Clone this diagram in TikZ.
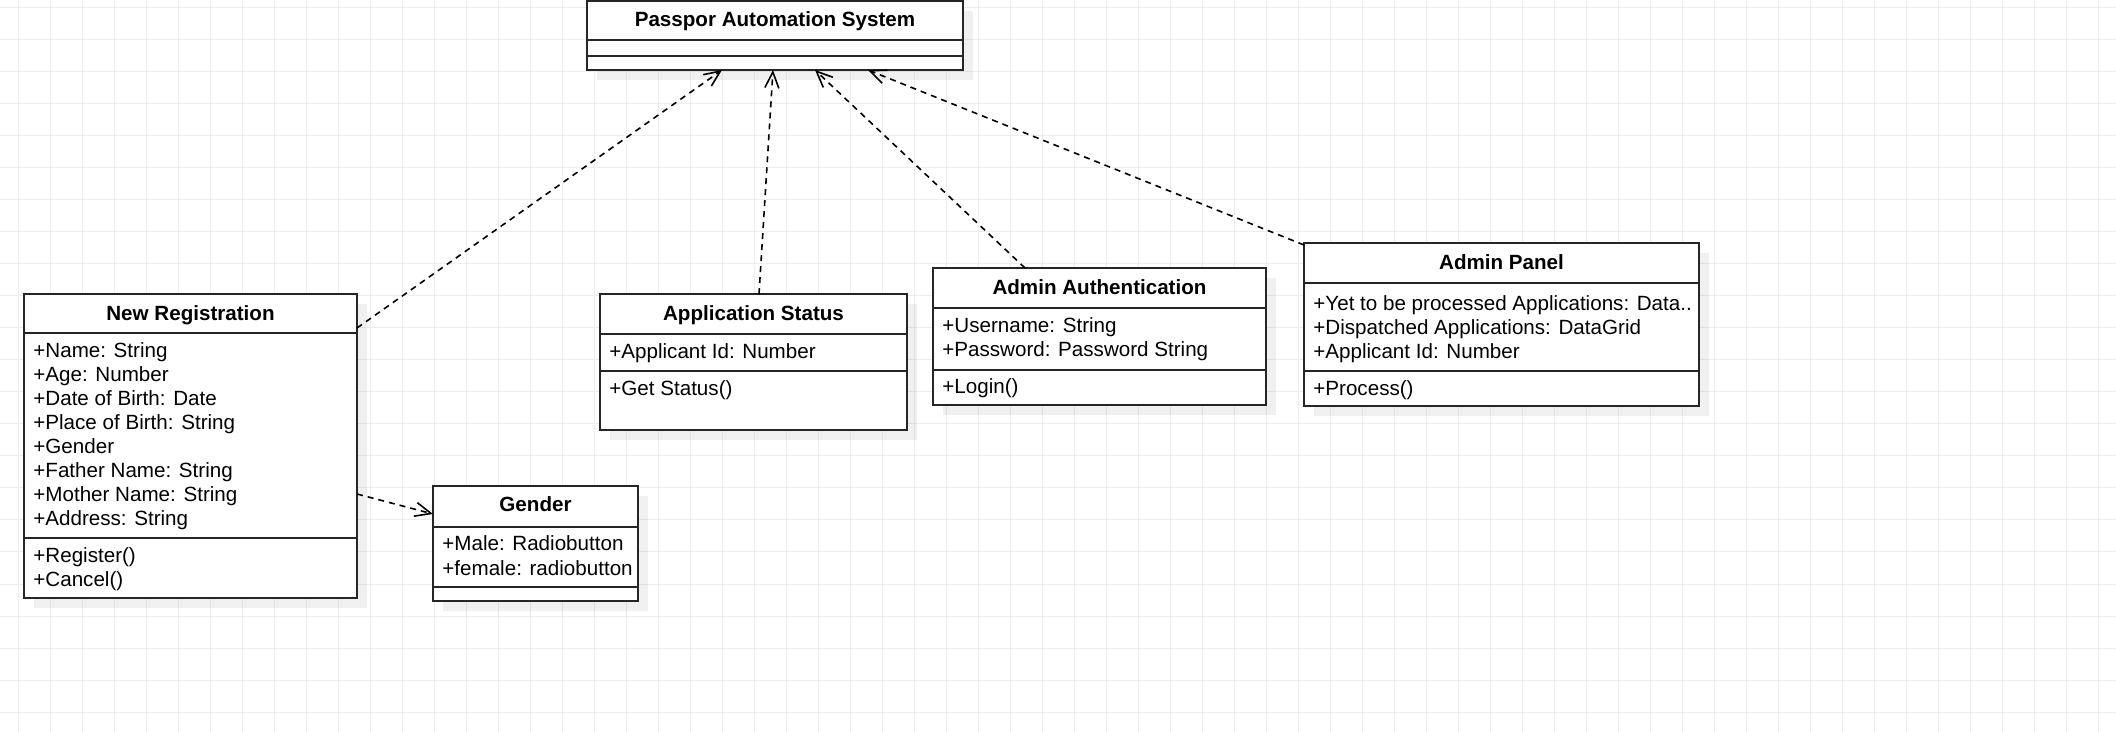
\documentclass[tikz,border=0pt]{standalone}
\usepackage{fontspec}
\setmainfont{Liberation Sans}
\usetikzlibrary{arrows.meta,shadows}
\begin{document}
\begin{tikzpicture}[x=0.5pt,y=-0.5pt,
  gridline/.style={draw=black!7, line width=0.5pt},
  cls/.style={draw=black!85, fill=white, line width=1pt, inner sep=0pt, outer sep=0pt,
    anchor=north west, general shadow={fill=black, opacity=0.06, shadow xshift=5pt, shadow yshift=-5pt}},
  sepline/.style={draw=black!85, line width=1pt},
  ttl/.style={font=\bfseries\fontsize{10.3}{12}\selectfont, anchor=base, inner sep=0pt},
  attr/.style={font=\fontsize{10.3}{12}\selectfont, anchor=base west, inner sep=0pt},
  dep/.style={draw=black, line width=0.8pt, dash pattern=on 3pt off 2.5pt,
    -{Straight Barb[length=8pt,width=7pt]}}]
\useasboundingbox (0,0) rectangle (2116,732);
\fill[white] (0,0) rectangle (2116,732);
% grid
\foreach \gx in {18,50,...,2116} {\draw[gridline] (\gx,0) -- (\gx,732);}
\foreach \gy in {8,40,...,732} {\draw[gridline] (0,\gy) -- (2116,\gy);}

% Passpor Automation System
\node[cls, minimum width=188pt, minimum height=34.5pt] (pas) at (587,1) {};
\draw[sepline] (587,40) -- (963,40);
\draw[sepline] (587,56) -- (963,56);
\node[ttl] (pas-t) at (775,27) {Passpor Automation System};

% New Registration
\node[cls, minimum width=166.5pt, minimum height=152pt] (nr) at (24,294) {};
\draw[sepline] (24,333) -- (357,333);
\draw[sepline] (24,538) -- (357,538);
\node[ttl] (nr-t) at (190.5,321) {New Registration};
\node[attr] (nr-a1) at (33,358) {+Name: String};
\node[attr] (nr-a2) at (33,382) {+Age: Number};
\node[attr] (nr-a3) at (33,406) {+Date of Birth: Date};
\node[attr] (nr-a4) at (33,430) {+Place of Birth: String};
\node[attr] (nr-a5) at (33,454) {+Gender};
\node[attr] (nr-a6) at (33,478) {+Father Name: String};
\node[attr] (nr-a7) at (33,502) {+Mother Name: String};
\node[attr] (nr-a8) at (33,526) {+Address: String};
\node[attr] (nr-m1) at (33,563) {+Register()};
\node[attr] (nr-m2) at (33,587) {+Cancel()};

% Gender
\node[cls, minimum width=102.5pt, minimum height=57.5pt] (gen) at (433,486) {};
\draw[sepline] (433,527) -- (638,527);
\draw[sepline] (433,587) -- (638,587);
\node[ttl] (gen-t) at (535.5,512) {Gender};
\node[attr] (gen-a1) at (442,551) {+Male: Radiobutton};
\node[attr] (gen-a2) at (442,575) {+female: radiobutton};

% Application Status
\node[cls, minimum width=153.5pt, minimum height=68pt] (aps) at (600,294) {};
\draw[sepline] (600,334) -- (907,334);
\draw[sepline] (600,371) -- (907,371);
\node[ttl] (aps-t) at (753.5,321) {Application Status};
\node[attr] (aps-a1) at (609,359) {+Applicant Id: Number};
\node[attr] (aps-m1) at (609,396) {+Get Status()};

% Admin Authentication
\node[cls, minimum width=166.5pt, minimum height=68.5pt] (aa) at (933,268) {};
\draw[sepline] (933,308) -- (1266,308);
\draw[sepline] (933,370) -- (1266,370);
\node[ttl] (aa-t) at (1099.5,295) {Admin Authentication};
\node[attr] (aa-a1) at (942,333) {+Username: String};
\node[attr] (aa-a2) at (942,357) {+Password: Password String};
\node[attr] (aa-m1) at (942,394) {+Login()};

% Admin Panel
\node[cls, minimum width=197.5pt, minimum height=81.5pt] (ap) at (1304,243) {};
\draw[sepline] (1304,283) -- (1699,283);
\draw[sepline] (1304,371) -- (1699,371);
\node[ttl] (ap-t) at (1501.5,270) {Admin Panel};
\node[attr] (ap-a1) at (1313,311) {+Yet to be processed Applications: Data..};
\node[attr] (ap-a2) at (1313,335) {+Dispatched Applications: DataGrid};
\node[attr] (ap-a3) at (1313,359) {+Applicant Id: Number};
\node[attr] (ap-m1) at (1313,396) {+Process()};

% dependencies
\draw[dep] ([yshift=-17pt]nr.north east) -- ([xshift=67.5pt]pas.south west);
\draw[dep] ([xshift=79.5pt]aps.north west) -- ([xshift=93pt]pas.south west);
\draw[dep] ([xshift=46pt]aa.north west) -- ([xshift=114pt]pas.south west);
\draw[dep] ([yshift=-1pt]ap.north west) -- ([xshift=140.5pt]pas.south west);
\draw[dep] ([yshift=-100pt]nr.north east) -- ([yshift=-14pt]gen.north west);
\end{tikzpicture}
\end{document}
